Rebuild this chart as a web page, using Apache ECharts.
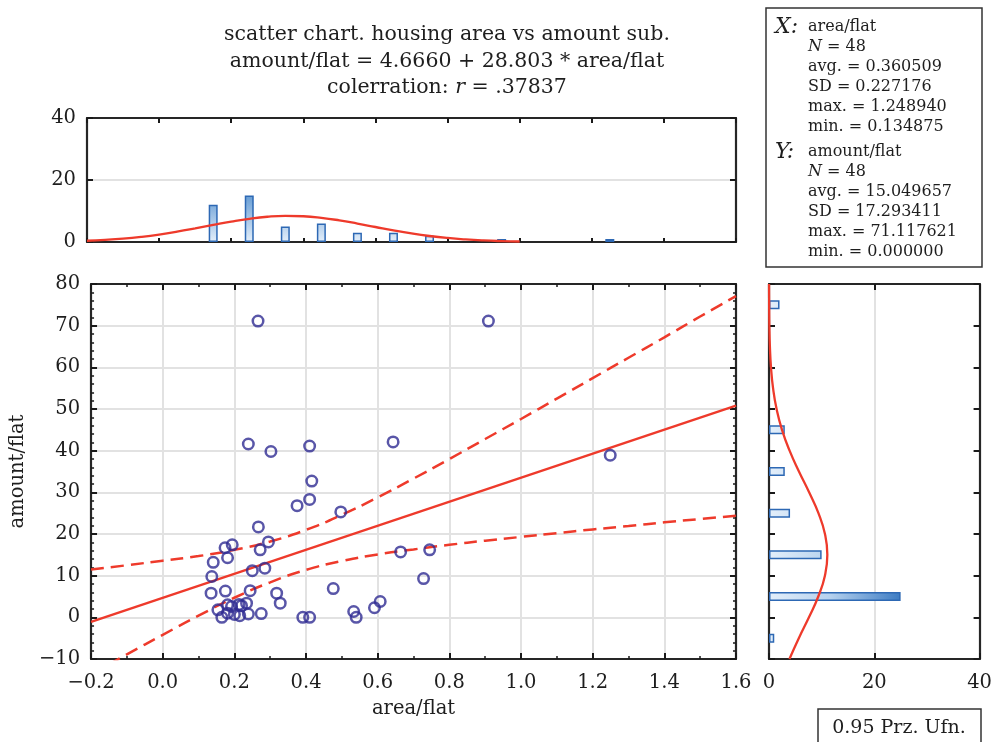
<!DOCTYPE html>
<html><head><meta charset="utf-8">
<script src="https://cdn.jsdelivr.net/npm/echarts@6/dist/echarts.min.js"></script>
<style>html,body{margin:0;padding:0;background:#fff}#c{width:995px;height:742px}</style>
</head><body><div id="c"></div>
<script>
// ---------- data ----------
const areaPerFlat = [0.137,0.141,0.174,0.194,0.181,0.135,0.175,0.154,0.165,0.181,0.181,0.192,
  0.200,0.213,0.220,0.215,0.234,0.239,0.244,0.250,0.285,0.272,0.295,0.267,0.275,0.239,0.266,
  0.302,0.318,0.328,0.375,0.391,0.410,0.416,0.410,0.410,0.476,0.497,0.533,0.540,0.591,0.607,
  0.643,0.664,0.728,0.745,0.909,1.249];
const amountPerFlat = [9.8,13.2,16.7,17.4,14.3,5.8,6.3,1.8,0.0,3.0,1.0,2.6,
  0.7,3.1,2.8,0.4,3.4,0.8,6.4,11.2,11.8,16.2,18.1,21.7,0.9,41.6,71.1,
  39.8,5.8,3.4,26.8,0.0,41.1,32.7,28.3,0.0,6.9,25.3,1.4,0.0,2.3,3.8,
  42.1,15.7,9.3,16.2,71.1,38.9];

// regression line and 95% confidence bands (read along x)
const regX = [-0.2, 1.6];
const regY = [-1.1, 50.8];
const bandX = [-0.2,-0.1,0.0,0.1,0.2,0.3,0.4,0.5,0.6,0.7,0.8,0.9,1.0,1.1,1.2,1.3,1.4,1.5,1.6];
const bandUpper = [11.5,12.5,13.6,14.7,16.2,18.2,21.0,24.6,28.8,33.3,38.0,42.8,47.6,52.5,57.4,62.3,67.2,72.2,77.1];
const bandLower = [-13.7,-8.9,-4.2,0.4,4.7,8.4,11.4,13.5,15.1,16.3,17.4,18.4,19.3,20.2,21.1,21.9,22.8,23.6,24.4];

// top histogram (area/flat)
const topBins = [-0.15,-0.05,0.05,0.15,0.25,0.35,0.45,0.55,0.65,0.75,0.85,0.95,1.05,1.15,1.25,1.35,1.45,1.55];
const topCounts = [0,0,0,12,15,5,6,3,3,2,0,1,0,0,1,0,0,0];
const topCurveX = [-0.2,-0.15,-0.1,-0.05,0,0.05,0.1,0.15,0.2,0.25,0.3,0.35,0.4,0.45,0.5,0.55,0.6,0.65,0.7,0.75,0.8,0.85,0.9,0.95,1.0];
const topCurveY = [0.40,0.68,1.08,1.65,2.39,3.31,4.37,5.49,6.57,7.49,8.14,8.42,8.30,7.80,6.98,5.95,4.84,3.74,2.76,1.94,1.30,0.83,0.50,0.29,0.16];

// right histogram (amount/flat)
const rightBins = [-5,5,15,25,35,45,55,65,75];
const rightCounts = [1,25,10,4,3,3,0,0,2];
const rightCurveY = [-10,-5,0,5,10,15,20,25,30,35,40,45,50,55,60,65,70,75,80];
const rightCurveX = [3.88,5.66,7.59,9.36,10.62,11.08,10.63,9.39,7.62,5.69,3.91,2.47,1.44,0.77,0.38,0.17,0.07,0.03,0.01];

// texts
const titleLines = ['scatter chart. housing area vs amount sub.',
  'amount/flat = 4.6660 + 28.803 * area/flat',
  'colerration: {i|r} = .37837'];
const xStats = ['area/flat','{i|N} = 48','avg. = 0.360509','SD = 0.227176','max. = 1.248940','min. = 0.134875'];
const yStats = ['amount/flat','{i|N} = 48','avg. = 15.049657','SD = 17.293411','max. = 71.117621','min. = 0.000000'];
const xAxisName = 'area/flat';
const yAxisName = 'amount/flat';
const bandLegend = '0.95 Prz. Ufn.';

// ---------- chart ----------
const FF = 'DejaVu Serif';
const INK = '#1e1e1e';
const RED = '#ee3a2b';
const fmtMinus = s => String(s).replace('-', '\u2212');
const noZero = arr => arr.map(v => v === 0 ? '-' : v);
const lineSt = {show:true, onZero:false, lineStyle:{color:'#262626', width:2.2}};
const tickSt = (len, interval) => ({show:true, inside:true, length:len, interval: interval, lineStyle:{color:'#1a1a1a', width:2}});
const minorSt = (n) => ({show:true, splitNumber:n, length:3, lineStyle:{color:'#1a1a1a', width:1.5}});
const gridLine = {show:true, lineStyle:{color:'#e2e2e2', width:2}};
const lbl = (extra) => Object.assign({fontFamily:FF, fontSize:19.5, color:INK}, extra);

const pts = areaPerFlat.map((x,i)=>[x, amountPerFlat[i]]);

const option = {
  animation:false,
  backgroundColor:'#fff',
  grid:[
    {left:87, top:118, width:649, height:124},
    {left:87, top:284, width:649, height:375},
    {left:769, top:284, width:216, height:375}
  ],
  xAxis:[
    {gridIndex:0, type:'category', data:topBins.map(String), boundaryGap:true, position:'bottom',
      axisLine:lineSt, axisTick:tickSt(4,1), axisLabel:{show:false}, splitLine:{show:false}},
    {gridIndex:0, type:'category', data:topBins.map(String), boundaryGap:true, position:'top',
      axisLine:lineSt, axisTick:tickSt(5,1), axisLabel:{show:false}, splitLine:{show:false}},
    {gridIndex:0, type:'value', min:-0.2, max:1.6, show:false},
    {gridIndex:1, type:'value', min:-0.2, max:1.6, interval:0.2, position:'bottom',
      axisLine:lineSt, axisTick:tickSt(6), minorTick:minorSt(2), splitLine:gridLine,
      axisLabel:lbl({margin:14, formatter:v=>fmtMinus(v.toFixed(1))}),
      name:xAxisName, nameLocation:'middle', nameGap:40, nameTextStyle:{fontFamily:FF, fontSize:19.5, color:INK}},
    {gridIndex:1, type:'value', min:-0.2, max:1.6, interval:0.2, position:'top',
      axisLine:lineSt, axisTick:tickSt(6), minorTick:minorSt(2), splitLine:{show:false}, axisLabel:{show:false}},
    {gridIndex:2, type:'value', min:0, max:40, interval:20, position:'bottom',
      axisLine:lineSt, axisTick:tickSt(6), splitLine:gridLine,
      axisLabel:lbl({margin:14})},
    {gridIndex:2, type:'value', min:0, max:40, interval:20, position:'top',
      axisLine:lineSt, axisTick:tickSt(6), splitLine:{show:false}, axisLabel:{show:false}}
  ],
  yAxis:[
    {gridIndex:0, type:'value', min:0, max:40, interval:20, position:'left',
      axisLine:lineSt, axisTick:tickSt(6), splitLine:gridLine, axisLabel:lbl({margin:11})},
    {gridIndex:0, type:'value', min:0, max:40, interval:20, position:'right',
      axisLine:lineSt, axisTick:tickSt(6), splitLine:{show:false}, axisLabel:{show:false}},
    {gridIndex:1, type:'value', min:-10, max:80, interval:10, position:'left',
      axisLine:lineSt, axisTick:tickSt(6), minorTick:minorSt(5), splitLine:gridLine,
      axisLabel:lbl({margin:11, formatter:v=>fmtMinus(v)}),
      name:yAxisName, nameLocation:'middle', nameGap:59, nameRotate:90, nameTextStyle:{fontFamily:FF, fontSize:19.5, color:INK}},
    {gridIndex:1, type:'value', min:-10, max:80, interval:10, position:'right',
      axisLine:lineSt, axisTick:tickSt(6), minorTick:minorSt(5), splitLine:{show:false}, axisLabel:{show:false}},
    {gridIndex:2, type:'category', data:rightBins.map(String), boundaryGap:true, position:'left',
      axisLine:lineSt, axisTick:tickSt(6,0), axisLabel:{show:false}, splitLine:{show:false}},
    {gridIndex:2, type:'category', data:rightBins.map(String), boundaryGap:true, position:'right',
      axisLine:lineSt, axisTick:tickSt(6,0), axisLabel:{show:false}, splitLine:{show:false}},
    {gridIndex:2, type:'value', min:-10, max:80, show:false}
  ],
  series:[
    {type:'bar', xAxisIndex:0, yAxisIndex:0, data:noZero(topCounts), barWidth:9,
      itemStyle:{borderColor:'#2d68b4', borderWidth:1.5,
        color:{type:'linear', x:0, y:242, x2:0, y2:190, global:true,
          colorStops:[{offset:0,color:'#e4effa'},{offset:1,color:'#5893d0'}]}}, z:2},
    {type:'line', xAxisIndex:2, yAxisIndex:0, data:topCurveX.map((x,i)=>[x,topCurveY[i]]),
      showSymbol:false, smooth:true, lineStyle:{color:RED, width:2.3}, z:3},
    {type:'bar', xAxisIndex:5, yAxisIndex:4, data:noZero(rightCounts), barWidth:9,
      itemStyle:{borderColor:'#2d68b4', borderWidth:1.5,
        color:{type:'linear', x:769, y:0, x2:905, y2:0, global:true,
          colorStops:[{offset:0,color:'#e4effa'},{offset:0.45,color:'#b5d1ee'},{offset:1,color:'#3576c0'}]}}, z:2},
    {type:'line', xAxisIndex:5, yAxisIndex:6, data:rightCurveX.map((x,i)=>[x,rightCurveY[i]]),
      showSymbol:false, smooth:true, lineStyle:{color:RED, width:2.3}, z:3},
    {type:'line', xAxisIndex:3, yAxisIndex:2, data:regX.map((x,i)=>[x,regY[i]]),
      showSymbol:false, lineStyle:{color:RED, width:2.3}, z:3, clip:true},
    {type:'line', xAxisIndex:3, yAxisIndex:2, data:bandX.map((x,i)=>[x,bandUpper[i]]),
      showSymbol:false, smooth:true, lineStyle:{color:RED, width:2.5, type:[13,7]}, z:3, clip:true},
    {type:'line', xAxisIndex:3, yAxisIndex:2, data:bandX.map((x,i)=>[x,bandLower[i]]),
      showSymbol:false, smooth:true, lineStyle:{color:RED, width:2.5, type:[13,7]}, z:3, clip:true},
    {type:'scatter', xAxisIndex:3, yAxisIndex:2, data:pts, symbol:'circle', symbolSize:10.5,
      itemStyle:{color:'rgba(255,255,255,0)', borderColor:'#2f2c92', borderWidth:2.5}, z:4}
  ],
  graphic:[]
};

const g = option.graphic;
titleLines.forEach((t,i)=>{
  g.push({type:'text', x:447, y:35 + i*26.5, style:{text:t, font:'20.5px "'+FF+'"', fill:INK,
    align:'center', verticalAlign:'middle',
    rich:{i:{fontFamily:FF, fontStyle:'italic', fontSize:20.5, fill:INK}}}});
});
g.push({type:'rect', shape:{x:766, y:8, width:216, height:259}, style:{fill:'#fff', stroke:'#333', lineWidth:1.5}, z:10});
g.push({type:'text', x:775, y:27, z:11, style:{text:'X:', font:'italic 22px "'+FF+'"', fill:INK, verticalAlign:'middle'}});
g.push({type:'text', x:775, y:152, z:11, style:{text:'Y:', font:'italic 22px "'+FF+'"', fill:INK, verticalAlign:'middle'}});
xStats.forEach((t,i)=>{
  g.push({type:'text', x:808, y:27 + i*20, z:11, style:{text:t, font:'16px "'+FF+'"', fill:INK, verticalAlign:'middle',
    rich:{i:{fontFamily:FF, fontStyle:'italic', fontSize:16, fill:INK}}}});
});
yStats.forEach((t,i)=>{
  g.push({type:'text', x:808, y:152 + i*20, z:11, style:{text:t, font:'16px "'+FF+'"', fill:INK, verticalAlign:'middle',
    rich:{i:{fontFamily:FF, fontStyle:'italic', fontSize:16, fill:INK}}}});
});
g.push({type:'rect', shape:{x:818, y:709, width:163, height:45}, style:{fill:'#fff', stroke:'#333', lineWidth:1.5}, z:10});
g.push({type:'text', x:899, y:728, z:11, style:{text:bandLegend, font:'19px "'+FF+'"', fill:INK, align:'center', verticalAlign:'middle'}});

const chart = echarts.init(document.getElementById('c'), null, {renderer:'canvas'});
chart.setOption(option);
</script>
</body></html>
